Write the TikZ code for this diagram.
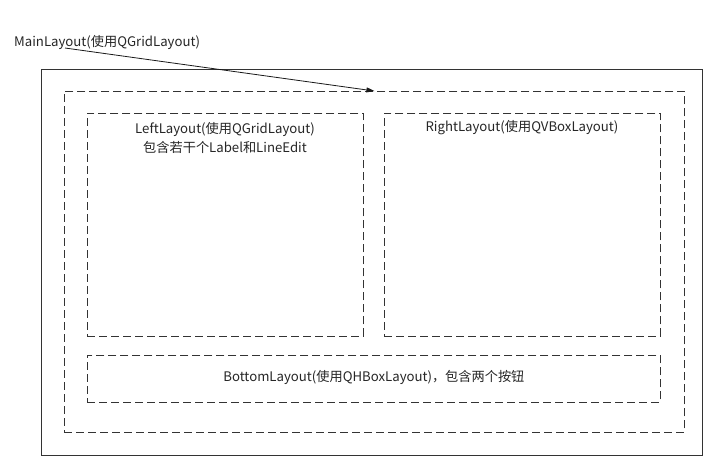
\documentclass[tikz,border=0pt]{standalone}
\usepackage{fontspec}
\setmainfont{Noto Sans CJK SC}
\usetikzlibrary{arrows.meta}
\begin{document}
\begin{tikzpicture}[x=1pt,y=-1pt,
  solidbox/.style={draw=black!80, line width=0.8pt, rectangle, inner sep=0pt},
  dashbox/.style={draw=black!80, line width=0.8pt, rectangle, inner sep=0pt, dash pattern=on 8pt off 4pt},
  lbl/.style={font=\fontsize{13.2}{19}\selectfont, text=black!85, inner sep=0pt, align=center},
  arr/.style={draw=black!90, line width=0.8pt, -{Triangle[length=8pt,width=5pt]}}]
\useasboundingbox (0,0) rectangle (704,456);
\node[solidbox, minimum width=661pt, minimum height=386pt, anchor=north west] (outer) at (41,69) {};
\node[dashbox, minimum width=620pt, minimum height=341pt, anchor=north west] (main) at (64,91) {};
\node[dashbox, minimum width=276pt, minimum height=223pt, anchor=north west] (left) at (87,113) {};
\node[dashbox, minimum width=276pt, minimum height=223pt, anchor=north west] (right) at (384,113) {};
\node[dashbox, minimum width=573pt, minimum height=47pt, anchor=north west] (bottom) at (87,355) {};
\node[lbl, anchor=west] (mainlbl) at (14,42) {MainLayout(使用QGridLayout)};
\node[lbl] (leftlbl) at (225,137.5) {LeftLayout(使用QGridLayout)\\包含若干个Label和LineEdit};
\node[lbl] (rightlbl) at (522,128) {RightLayout(使用QVBoxLayout)};
\node[lbl] (bottomlbl) at ([yshift=1pt]bottom.center) {BottomLayout(使用QHBoxLayout)，包含两个按钮};
\coordinate (arrstart) at (65,48);
\draw[arr] (arrstart) -- (main.north);
\end{tikzpicture}
\end{document}
